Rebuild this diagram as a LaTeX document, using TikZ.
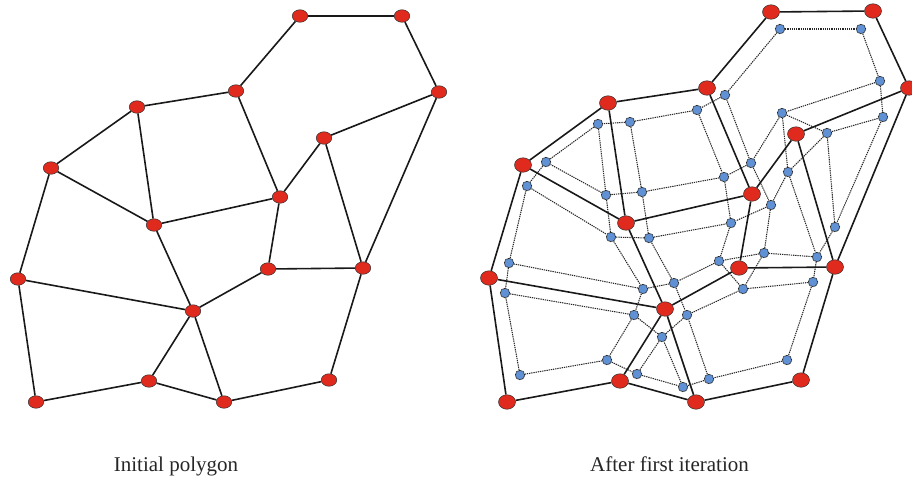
\documentclass[tikz,border=0pt]{standalone}
\usepackage{fontspec}
\setmainfont{Liberation Serif}
\usetikzlibrary{shapes.geometric,backgrounds}
\definecolor{rednode}{RGB}{224,42,30}
\definecolor{bluenode}{RGB}{95,145,212}
\tikzset{
  rv/.style={ellipse, draw=black!80, line width=0.5pt, fill=rednode, minimum width=15.5pt, minimum height=12.5pt, inner sep=0pt},
  rvb/.style={rv, minimum width=17pt, minimum height=14.5pt},
  bv/.style={circle, draw=black!85, dash pattern=on 0.9pt off 0.6pt, line width=0.8pt, fill=bluenode, minimum size=9.5pt, inner sep=0pt},
  solidedge/.style={line width=1.6pt, black!90},
  dotedge/.style={line width=1.05pt, dash pattern=on 1.3pt off 0.9pt, black!85},
  lbl/.style={font=\fontsize{21}{25}\selectfont, text=black!85, inner sep=0pt}
}
\begin{document}
\begin{tikzpicture}[x=1pt,y=-1pt]
\useasboundingbox (0,0) rectangle (912,479);
% ---------- left: initial polygon ----------
\node[rv] (A) at (300,16) {};
\node[rv] (B) at (402,16) {};
\node[rv] (C) at (439,92) {};
\node[rv] (D) at (236,91) {};
\node[rv] (E) at (137,107) {};
\node[rv] (F) at (324,138) {};
\node[rv] (G) at (51,168) {};
\node[rv] (H) at (280,197) {};
\node[rv] (I) at (154,225) {};
\node[rv] (J) at (268,269) {};
\node[rv] (K) at (363,268) {};
\node[rv] (L) at (18,279) {};
\node[rv] (M) at (193,311) {};
\node[rv] (N) at (149,381) {};
\node[rv] (O) at (329,380) {};
\node[rv] (P) at (36,402) {};
\node[rv] (Q) at (224,402) {};
% ---------- right: after first iteration ----------
\node[rvb] (rA) at (771,12) {};
\node[rvb] (rB) at (873,11) {};
\node[rvb] (rC) at (909,88) {};
\node[rvb] (rD) at (707,88) {};
\node[rvb] (rE) at (608,103) {};
\node[rvb] (rF) at (796,134) {};
\node[rvb] (rG) at (523,165) {};
\node[rvb] (rH) at (752,194) {};
\node[rvb] (rI) at (626,223) {};
\node[rvb] (rJ) at (739,268) {};
\node[rvb] (rK) at (835,267) {};
\node[rvb] (rL) at (489,278) {};
\node[rvb] (rM) at (665,309) {};
\node[rvb] (rN) at (620,381) {};
\node[rvb] (rO) at (801,380) {};
\node[rvb] (rP) at (507,402) {};
\node[rvb] (rQ) at (696,402) {};
% blue points
\node[bv] (b1) at (780,29) {};
\node[bv] (b2) at (861,29) {};
\node[bv] (b3) at (880,81) {};
\node[bv] (b4) at (725,95) {};
\node[bv] (b5) at (697,110) {};
\node[bv] (b6) at (782,113) {};
\node[bv] (b7) at (883,117) {};
\node[bv] (b8) at (598,124) {};
\node[bv] (b9) at (630,122) {};
\node[bv] (b10) at (827,133) {};
\node[bv] (b11) at (546,162) {};
\node[bv] (b12) at (751,163) {};
\node[bv] (b13) at (724,177) {};
\node[bv] (b14) at (788,172) {};
\node[bv] (b15) at (527,186) {};
\node[bv] (b16) at (606,195) {};
\node[bv] (b17) at (642,192) {};
\node[bv] (b18) at (771,205) {};
\node[bv] (b19) at (731,223) {};
\node[bv] (b20) at (835,227) {};
\node[bv] (b21) at (611,237) {};
\node[bv] (b22) at (649,238) {};
\node[bv] (b23) at (764,253) {};
\node[bv] (b24) at (719,261) {};
\node[bv] (b25) at (817,257) {};
\node[bv] (b26) at (509,263) {};
\node[bv] (b27) at (674,283) {};
\node[bv] (b28) at (813,282) {};
\node[bv] (b29) at (643,289) {};
\node[bv] (b30) at (743,289) {};
\node[bv] (b31) at (505,293) {};
\node[bv] (b32) at (634,315) {};
\node[bv] (b33) at (687,315) {};
\node[bv] (b34) at (662,337) {};
\node[bv] (b35) at (607,360) {};
\node[bv] (b36) at (787,360) {};
\node[bv] (b37) at (520,375) {};
\node[bv] (b38) at (637,374) {};
\node[bv] (b39) at (709,379) {};
\node[bv] (b40) at (683,387) {};
\begin{scope}[on background layer]
  % dotted: face polygons and vertex links
  \foreach \u/\v in {b1/b2,b2/b3,b3/b6,b6/b12,b12/b4,b4/b1,
      b9/b5,b5/b13,b13/b17,b17/b9,
      b11/b8,b8/b16,b16/b11,
      b10/b7,b7/b20,b20/b10,
      b18/b14,b14/b25,b25/b23,b23/b18,
      b22/b19,b19/b24,b24/b27,b27/b22,
      b15/b21,b21/b29,b29/b26,b26/b15,
      b31/b32,b32/b35,b35/b37,b37/b31,
      b34/b38,b38/b40,b40/b34,
      b33/b30,b30/b28,b28/b36,b36/b39,b39/b33,
      b4/b5,b12/b13,b12/b18,b13/b19,b18/b19,
      b3/b7,b6/b10,b6/b14,b10/b14,
      b9/b8,b17/b16,b16/b21,b17/b22,b22/b21,
      b11/b15,b23/b24,b23/b30,b24/b30,
      b20/b25,b25/b28,
      b27/b33,b27/b29,b29/b32,b32/b34,b34/b33,
      b26/b31,b35/b38,b40/b39}
    \draw[dotedge] (\u) -- (\v);
  % solid edges, both panels
  \foreach \u/\v in {A/B,B/C,A/D,D/E,D/H,E/G,E/I,G/I,G/L,C/F,C/K,F/H,F/K,
      H/I,H/J,J/K,J/M,I/M,L/M,L/P,M/N,M/Q,N/P,N/Q,Q/O,O/K}
  {
    \draw[solidedge] (\u) -- (\v);
    \draw[solidedge] (r\u) -- (r\v);
  }
\end{scope}
% captions
\node[lbl, anchor=base] (cap1) at (176,471) {Initial polygon};
\node[lbl, anchor=base] (cap2) at (669.5,471) {After first iteration};
\end{tikzpicture}
\end{document}
